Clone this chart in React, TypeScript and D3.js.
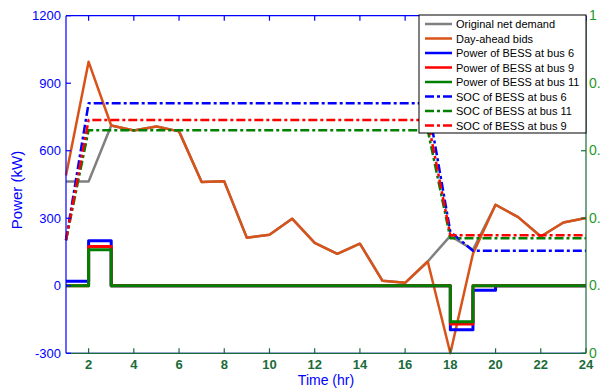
import React, { useRef, useEffect } from 'react';
import * as d3 from 'd3';

const hours = [1, 2, 3, 4, 5, 6, 7, 8, 9, 10, 11, 12, 13, 14, 15, 16, 17, 18, 19, 20, 21, 22, 23, 24];

const netDemand = [463, 463, 712, 690, 708, 686, 461, 464, 213, 227, 298, 191, 142, 187, 22, 13, 108, 222, 160, 360, 305, 219, 281, 301];
const dayAheadBids = [490, 995, 712, 690, 708, 686, 461, 464, 213, 227, 298, 191, 142, 187, 22, 13, 108, -300, 142, 360, 305, 219, 281, 301];

const powerBus6 = [20, 200, 0, 0, 0, 0, 0, 0, 0, 0, 0, 0, 0, 0, 0, 0, 0, -195, -20, 0, 0, 0, 0, 0];
const powerBus9 = [0, 175, 0, 0, 0, 0, 0, 0, 0, 0, 0, 0, 0, 0, 0, 0, 0, -170, 0, 0, 0, 0, 0, 0];
const powerBus11 = [0, 160, 0, 0, 0, 0, 0, 0, 0, 0, 0, 0, 0, 0, 0, 0, 0, -160, 0, 0, 0, 0, 0, 0];

const socBus6 = [0.335, 0.741, 0.741, 0.741, 0.741, 0.741, 0.741, 0.741, 0.741, 0.741, 0.741, 0.741, 0.741, 0.741, 0.741, 0.741, 0.741, 0.36, 0.304, 0.304, 0.304, 0.304, 0.304, 0.304];
const socBus9 = [0.335, 0.691, 0.691, 0.691, 0.691, 0.691, 0.691, 0.691, 0.691, 0.691, 0.691, 0.691, 0.691, 0.691, 0.691, 0.691, 0.691, 0.35, 0.35, 0.35, 0.35, 0.35, 0.35, 0.35];
const socBus11 = [0.335, 0.661, 0.661, 0.661, 0.661, 0.661, 0.661, 0.661, 0.661, 0.661, 0.661, 0.661, 0.661, 0.661, 0.661, 0.661, 0.661, 0.341, 0.341, 0.341, 0.341, 0.341, 0.341, 0.341];

const xTicks = [2, 4, 6, 8, 10, 12, 14, 16, 18, 20, 22, 24];
const leftTicks = [-300, 0, 300, 600, 900, 1200];
const rightTicks = [0, 0.2, 0.4, 0.6, 0.8, 1];

const BLUE = '#0000ff';
const RED = '#ff0000';
const GREEN = '#007f00';
const ORANGE = '#d95319';
const GRAY = '#808080';
const AXIS_GREEN = '#1a6b3a';
const DASHDOT = '9,3,3,3';

const Chart = () => {
  const svgRef = useRef<SVGSVGElement>(null);

  useEffect(() => {
    const svg = d3.select(svgRef.current);
    svg.selectAll('*').remove();

    const width = 600;
    const height = 390;
    const left = 66, right = 586, top = 15.7, bottom = 353.3;
    const font = '"Liberation Sans", Arial, sans-serif';

    svg.attr('width', width).attr('height', height);

    const x = d3.scaleLinear().domain([1, 24]).range([left, right]);
    const yL = d3.scaleLinear().domain([-300, 1200]).range([bottom, top]);
    const yR = d3.scaleLinear().domain([0, 1]).range([bottom, top]);

    svg.append('rect').attr('width', width).attr('height', height).attr('fill', '#fff');

    const plot = svg.append('g');

    const solid = (vals: number[], y: any, color: string, w: number, curve: any) =>
      plot.append('path')
        .datum(vals)
        .attr('fill', 'none')
        .attr('stroke', color)
        .attr('stroke-width', w)
        .attr('stroke-linejoin', 'round')
        .attr('d', d3.line<number>().x((_, i) => x(hours[i])).y(d => y(d)).curve(curve));

    solid(netDemand, yL, GRAY, 2.5, d3.curveLinear);
    solid(dayAheadBids, yL, ORANGE, 2.5, d3.curveLinear);
    solid(powerBus6, yL, BLUE, 3, d3.curveStepAfter);
    solid(powerBus9, yL, RED, 3, d3.curveStepAfter);
    solid(powerBus11, yL, GREEN, 3, d3.curveStepAfter);
    solid(socBus6, yR, BLUE, 2.5, d3.curveLinear).attr('stroke-dasharray', DASHDOT);
    solid(socBus11, yR, GREEN, 2.5, d3.curveLinear).attr('stroke-dasharray', DASHDOT);
    solid(socBus9, yR, RED, 2.5, d3.curveLinear).attr('stroke-dasharray', DASHDOT);

    // frame
    const ax = svg.append('g').attr('stroke-width', 1.2).attr('fill', 'none');
    ax.append('line').attr('x1', left).attr('x2', right).attr('y1', top).attr('y2', top).attr('stroke', BLUE);
    ax.append('line').attr('x1', left).attr('x2', left).attr('y1', top).attr('y2', bottom).attr('stroke', BLUE);
    ax.append('line').attr('x1', left).attr('x2', right).attr('y1', bottom).attr('y2', bottom).attr('stroke', BLUE);
    ax.append('line').attr('x1', left).attr('x2', right).attr('y1', bottom).attr('y2', bottom).attr('stroke', AXIS_GREEN);
    ax.append('line').attr('x1', right).attr('x2', right).attr('y1', top).attr('y2', bottom).attr('stroke', AXIS_GREEN);

    // ticks
    ax.selectAll('.lt').data(leftTicks).join('line')
      .attr('x1', left).attr('x2', left + 5).attr('y1', d => yL(d)).attr('y2', d => yL(d)).attr('stroke', BLUE);
    ax.selectAll('.rt').data(rightTicks).join('line')
      .attr('x1', right - 5).attr('x2', right).attr('y1', d => yR(d)).attr('y2', d => yR(d)).attr('stroke', AXIS_GREEN);
    ax.selectAll('.tt').data(xTicks).join('line')
      .attr('x1', d => x(d)).attr('x2', d => x(d)).attr('y1', top).attr('y2', top + 5).attr('stroke', BLUE);
    ax.selectAll('.bt').data(xTicks).join('line')
      .attr('x1', d => x(d)).attr('x2', d => x(d)).attr('y1', bottom - 5).attr('y2', bottom).attr('stroke', AXIS_GREEN);

    // tick labels (right ones run past the edge, as in the original figure)
    svg.append('g').selectAll('text').data(leftTicks).join('text')
      .attr('x', left - 5).attr('y', d => yL(d) + 4.5)
      .attr('text-anchor', 'end').attr('font-family', font).attr('font-size', 13)
      .attr('fill', BLUE).text(d => d);

    svg.append('g').selectAll('text').data(rightTicks).join('text')
      .attr('x', right + 3).attr('y', d => yR(d) + 4.5)
      .attr('font-family', font).attr('font-size', 14)
      .attr('fill', '#1f9a1f').text(d => (d === 0 || d === 1 ? String(d) : d.toFixed(1)));

    svg.append('g').selectAll('text').data(xTicks).join('text')
      .attr('x', d => x(d)).attr('y', 369)
      .attr('text-anchor', 'middle').attr('font-family', font).attr('font-size', 13)
      .attr('font-weight', 'bold').attr('fill', AXIS_GREEN).text(d => d);

    // axis titles
    svg.append('text')
      .attr('x', (left + right) / 2).attr('y', 385)
      .attr('text-anchor', 'middle').attr('font-family', font).attr('font-size', 14)
      .attr('fill', BLUE).text('Time (hr)');

    svg.append('text')
      .attr('transform', `translate(22, 190) rotate(-90)`)
      .attr('text-anchor', 'middle').attr('font-family', font).attr('font-size', 15)
      .attr('fill', BLUE).text('Power (kW)');

    // legend
    const legendItems = [
      { label: 'Original net demand', color: GRAY, dash: null },
      { label: 'Day-ahead bids', color: ORANGE, dash: null },
      { label: 'Power of BESS at bus 6', color: BLUE, dash: null },
      { label: 'Power of BESS at bus 9', color: RED, dash: null },
      { label: 'Power of BESS at bus 11', color: GREEN, dash: null },
      { label: 'SOC of BESS at bus 6', color: BLUE, dash: DASHDOT },
      { label: 'SOC of BESS at bus 11', color: GREEN, dash: DASHDOT },
      { label: 'SOC of BESS at bus 9', color: RED, dash: DASHDOT },
    ];

    const lg = svg.append('g');
    lg.append('rect')
      .attr('x', 419).attr('y', 15).attr('width', 167).attr('height', 118)
      .attr('fill', '#fff').attr('stroke', '#000').attr('stroke-width', 1);

    const row = lg.selectAll('g.row').data(legendItems).join('g')
      .attr('transform', (_, i) => `translate(0, ${24 + i * 14.5})`);
    row.append('line')
      .attr('x1', 425).attr('x2', 452).attr('y1', 0).attr('y2', 0)
      .attr('stroke', d => d.color).attr('stroke-width', 2.5)
      .attr('stroke-dasharray', d => d.dash);
    row.append('text')
      .attr('x', 456).attr('y', 4)
      .attr('font-family', font).attr('font-size', 11)
      .attr('fill', '#000').text(d => d.label);
  }, []);

  return <svg ref={svgRef} style={{ position: 'absolute', left: 0, top: 0, display: 'block' }}></svg>;
};

export default function App() {
  return <Chart />;
}
